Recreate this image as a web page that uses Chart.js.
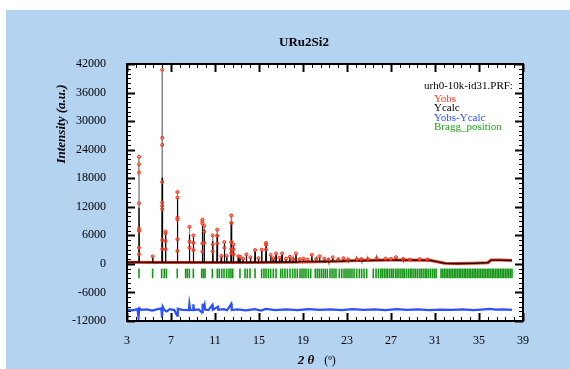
<!DOCTYPE html>
<html>
<head>
<meta charset="utf-8">
<script src="https://cdn.jsdelivr.net/npm/chart.js@4"></script>
<style>
  html, body { margin: 0; padding: 0; background: #fff; }
  #wrap { width: 570px; height: 369px; }
</style>
</head>
<body>
<div id="wrap"><canvas id="prf" width="570" height="369"></canvas></div>
<script>
// background of the pattern (2theta, counts)
const bgX = [3.0, 6.0, 10.0, 14.0, 17.0, 20.0, 22.0, 24.0, 27.0, 30.5, 31.2, 31.9, 33.0, 34.4, 35.8, 36.1, 37.0, 38.0];
const bgY = [350, 300, 300, 300, 350, 450, 550, 700, 800, 780, 450, 120, 60, 120, 250, 800, 800, 720];

// reflections: position, observed top, calculated top
const peakPos  = [4.09, 5.33, 6.2, 6.5, 7.58, 8.67, 9.03, 9.85, 10.03, 10.79, 11.2, 11.57, 11.85, 12.06, 12.48, 12.67, 13.12, 13.27, 13.55, 13.85, 14.22, 14.64, 14.95, 15.24, 15.64, 16.06, 16.3, 16.55, 16.85, 17.1, 17.45, 17.8, 18.1, 18.36, 18.7, 19.03, 19.4, 19.8, 20.2, 20.5, 20.94, 21.3, 21.7, 22.2, 22.67, 23.1, 23.9, 24.3, 24.9, 25.7, 26.5, 27.0, 27.45, 28.1, 28.7, 29.6, 30.3];
const peakObs  = [22500, 1600, 40800, 6800, 15100, 7800, 6000, 9300, 8000, 6000, 7200, 1700, 4600, 1700, 10200, 4100, 1600, 1500, 1100, 2000, 1400, 2900, 1200, 3000, 4400, 1900, 1200, 2200, 1300, 2200, 1100, 1500, 1000, 2200, 1000, 1100, 900, 1900, 1000, 1600, 1100, 900, 1400, 950, 1200, 950, 1000, 1000, 1000, 1200, 1100, 1050, 1400, 1050, 900, 1000, 950];
const peakCalc = [11800, 1500, 18100, 6600, 13900, 6200, 5600, 8000, 7200, 4800, 6300, 1500, 4400, 1500, 8700, 3800, 1400, 1300, 1000, 1800, 1300, 2600, 1100, 2700, 4000, 1700, 1100, 2000, 1200, 2000, 1000, 1300, 950, 1900, 950, 1000, 850, 1700, 950, 1400, 1000, 850, 1200, 900, 1100, 900, 950, 950, 950, 1100, 1000, 1000, 1300, 1000, 850, 950, 900];

// extra observed points on the flanks of the strong peaks
const dotX = [4.09, 4.09, 4.09, 4.09, 4.09, 4.09, 4.09,
              6.2, 6.2, 6.2, 6.2, 6.2, 6.2, 6.2, 6.2,
              6.5, 6.5, 6.5,
              7.58, 7.58, 7.58, 7.58, 7.58,
              8.67, 8.67, 9.03, 9.03,
              9.85, 9.85, 9.85, 9.85, 10.03, 10.03,
              10.79, 10.79, 11.2, 11.2, 11.85,
              12.48, 12.48, 12.48, 12.48, 12.67, 12.67,
              15.64, 15.64];
const dotY = [20900, 19200, 12700, 7400, 6900, 3400, 2000,
              26500, 25000, 17200, 12900, 12200, 11500, 5000, 3100,
              6450, 4800, 3100,
              13900, 9700, 9300, 5200, 2700,
              4700, 3400, 4400, 2900,
              8900, 8500, 4300, 2600, 6800, 4400,
              4100, 2600, 5900, 4300, 3400,
              8600, 4600, 3100, 2300, 3100, 2000,
              4000, 3000];

// Yobs - Ycalc (offset)
const diffX = [3.0, 3.5, 3.95, 4.05, 4.12, 4.3, 4.8, 5.3, 5.8, 6.12, 6.18, 6.24, 6.4, 6.6, 6.9, 7.3, 7.55, 7.62, 8.0, 8.62, 8.67, 8.75, 9.0, 9.03, 9.1, 9.5, 9.82, 9.85, 9.9, 10.05, 10.1, 10.4, 10.76, 10.8, 11.27, 11.3, 11.8, 12.1, 12.48, 12.52, 13.0, 13.8, 14.6, 15.2, 15.6, 16.5, 17.5, 18.5, 19.5, 20.5, 21.5, 22.5, 23.5, 24.5, 25.5, 26.5, 27.5, 28.5, 29.5, 30.5, 31.5, 32.5, 33.5, 34.5, 35.5, 36.0, 36.5, 37.2, 38.0];
const diffY = [-9600, -9750, -9500, -11300, -9300, -9650, -9550, -9800, -9500, -9350, -11300, -9000, -9700, -10000, -9500, -9700, -10900, -9400, -9650, -9700, -8400, -9650, -9700, -8500, -9700, -9550, -10200, -8400, -9600, -8500, -9600, -9700, -8600, -9650, -9000, -9650, -9500, -9750, -8400, -9700, -9550, -9750, -9500, -9800, -9450, -9700, -9550, -9700, -9500, -9650, -9550, -9700, -9500, -9650, -9550, -9700, -9500, -9650, -9550, -9700, -9600, -9650, -9550, -9700, -9550, -9450, -9600, -9550, -9650];

// Bragg reflection positions
const braggPos = [4.09, 5.33, 6.15, 6.39, 6.58, 7.57, 8.33, 8.48, 8.67, 9.03, 9.79, 9.94, 10.09, 10.76, 11.21, 11.39, 11.61, 11.82, 12.06, 12.27, 12.45, 12.61, 13.27, 13.73, 13.94, 14.18, 14.64, 15.24, 15.45, 15.64, 15.85, 16.06, 16.3, 16.55, 16.97, 17.15, 17.36, 17.58, 17.82, 18.06, 18.27, 18.48, 18.73, 18.91, 19.09, 19.27, 19.48, 19.7, 20.12, 20.3, 20.48, 20.67, 20.85, 21.03, 21.21, 21.45, 21.64, 21.82, 22.0, 22.3, 22.52, 22.73, 22.91, 23.09, 23.27, 23.45, 23.64, 23.88, 24.12, 24.33, 24.55, 24.79, 25.39, 25.64, 25.85, 26.05, 26.2, 26.38, 26.55, 26.7, 26.88, 27.05, 27.2, 27.4, 27.55, 27.72, 27.9, 28.08, 28.22, 28.4, 28.58, 28.75, 28.9, 29.08, 29.25, 29.42, 29.6, 29.75, 29.92, 30.1, 30.25, 30.42, 30.6, 30.78, 30.95, 31.1, 31.55, 31.7, 31.85, 32.0, 32.15, 32.3, 32.45, 32.6, 32.75, 32.9, 33.05, 33.2, 33.35, 33.5, 33.65, 33.8, 33.95, 34.1, 34.25, 34.4, 34.55, 34.7, 34.85, 35.0, 35.15, 35.3, 35.45, 35.6, 35.75, 35.9, 36.05, 36.2, 36.35, 36.5, 36.65, 36.8, 36.95, 37.1, 37.25, 37.4, 37.55, 37.7, 37.85, 38.0];
const braggLevel = -2000;

const xTickLabels = [3, 7, 11, 15, 19, 23, 27, 31, 35, 39];
const yTickLabels = [-12000, -6000, 0, 6000, 12000, 18000, 24000, 30000, 36000, 42000];

const serif = '"Liberation Serif", "Times New Roman", serif';

// nearest background sample for the foot of a peak
function bgNear(x) {
  let best = 0;
  bgX.forEach((v, i) => { if (Math.abs(v - x) < Math.abs(bgX[best] - x)) best = i; });
  return bgY[best];
}

// background line with a spike for every reflection
function profile(tops) {
  const pts = bgX.map((x, i) => ({ x: x, y: bgY[i] }));
  peakPos.forEach((p, i) => {
    const b = bgNear(p);
    pts.push({ x: p - 0.03, y: b }, { x: p, y: tops[i] }, { x: p + 0.03, y: b });
  });
  return pts.sort((a, b) => a.x - b.x);
}

const obsDots = peakPos.map((p, i) => ({ x: p, y: peakObs[i] }))
  .concat(dotX.map((x, i) => ({ x: x, y: dotY[i] })));

const decor = {
  id: 'decor',
  beforeDraw(chart) {
    const c = chart.ctx, a = chart.chartArea;
    c.save();
    c.fillStyle = '#ffffff';
    c.fillRect(0, 0, chart.width, chart.height);
    c.fillStyle = '#b3d3f1';
    c.fillRect(6, 10, chart.width - 6, chart.height - 10);
    c.fillStyle = '#ffffff';
    c.fillRect(a.left, a.top, a.right - a.left, a.bottom - a.top);
    c.restore();
  },
  afterDraw(chart) {
    const c = chart.ctx, a = chart.chartArea;
    const xs = chart.scales.x, ys = chart.scales.y;
    c.save();
    c.strokeStyle = '#000';
    // minor / major ticks pointing inward on all four sides
    for (let v = -12000; v <= 42000; v += 1000) {
      const py = Math.round(ys.getPixelForValue(v)) + 0.5;
      const major = v % 6000 === 0;
      const len = major ? 8 : 4;
      c.lineWidth = major ? 2 : 1;
      c.beginPath();
      c.moveTo(a.left, py); c.lineTo(a.left + len, py);
      c.moveTo(a.right - len, py); c.lineTo(a.right, py);
      c.stroke();
    }
    for (let i = 0; i <= 45; i++) {
      const px = Math.round(xs.getPixelForValue(3 + 0.8 * i)) + 0.5;
      const major = i % 5 === 0;
      const len = major ? 8 : 4;
      c.lineWidth = major ? 2 : 1;
      c.beginPath();
      c.moveTo(px, a.bottom); c.lineTo(px, a.bottom - len);
      c.moveTo(px, a.top); c.lineTo(px, a.top + len);
      c.stroke();
    }
    c.lineWidth = 2;
    c.strokeRect(a.left, a.top, a.right - a.left, a.bottom - a.top);

    // texts
    c.fillStyle = '#000';
    c.textAlign = 'center';
    c.textBaseline = 'middle';
    c.font = 'bold 13px ' + serif;
    c.fillText('URu2Si2', 304, 43);
    c.font = 'bold italic 13px ' + serif;
    c.fillText('2 θ', 306, 361);
    c.font = '12px ' + serif;
    c.fillText('(º)', 330, 361);
    c.save();
    c.translate(62, 124);
    c.rotate(-Math.PI / 2);
    c.font = 'bold italic 13px ' + serif;
    c.fillText('Intensity (a.u.)', 0, 0);
    c.restore();

    c.textAlign = 'left';
    c.font = '11px ' + serif;
    c.fillText('urh0-10k-id31.PRF:', 424, 86);
    const items = [['Yobs', '#ff3a1c'], ['Ycalc', '#000000'], ['Yobs-Ycalc', '#3050ff'], ['Bragg_position', '#22a022']];
    items.forEach((it, i) => {
      c.fillStyle = it[1];
      c.fillText(it[0], 434, 99 + i * 9.4);
    });
    c.restore();
  }
};

new Chart(document.getElementById('prf'), {
  type: 'scatter',
  data: {
    datasets: [
      {
        label: 'Yobs band',
        data: bgX.map((x, i) => ({ x: x, y: bgY[i] })),
        showLine: true, borderColor: '#ff2a10', borderWidth: 3, pointRadius: 0, order: 5
      },
      {
        label: 'Yobs line',
        data: profile(peakObs),
        showLine: true, borderColor: '#8a8a8a', borderWidth: 1, pointRadius: 0, order: 4
      },
      {
        label: 'Ycalc',
        data: profile(peakCalc),
        showLine: true, borderColor: '#000', borderWidth: 1.2, pointRadius: 0, order: 3
      },
      {
        label: 'Yobs',
        data: obsDots,
        pointRadius: 1.5, pointBorderWidth: 1,
        pointBorderColor: '#ff2a10', pointBackgroundColor: 'rgba(255,120,90,0.6)', order: 1
      },
      {
        label: 'Yobs-Ycalc',
        data: diffX.map((x, i) => ({ x: x, y: diffY[i] })),
        showLine: true, borderColor: '#2c50ff', borderWidth: 2.2, pointRadius: 0, order: 2
      },
      {
        label: 'Bragg_position',
        data: braggPos.map(x => ({ x: x, y: braggLevel })),
        pointStyle: 'line', rotation: 90, pointRadius: 4.8, pointBorderWidth: 1.6,
        pointBorderColor: '#169616', pointBackgroundColor: '#169616', order: 2
      }
    ]
  },
  options: {
    responsive: false,
    animation: false,
    events: [],
    layout: { padding: { top: 64, right: 47, left: 0, bottom: 0 } },
    plugins: { legend: { display: false }, tooltip: { enabled: false }, title: { display: false } },
    scales: {
      x: {
        type: 'linear', min: 3, max: 39,
        afterBuildTicks: s => { s.ticks = xTickLabels.map(v => ({ value: v })); },
        afterFit: s => { s.height = 48; },
        grid: { display: false }, border: { display: false },
        ticks: { color: '#000', padding: 5, font: { family: serif, size: 12 }, maxRotation: 0, callback: v => String(v) }
      },
      y: {
        type: 'linear', min: -12000, max: 42000,
        afterBuildTicks: s => { s.ticks = yTickLabels.map(v => ({ value: v })); },
        afterFit: s => { s.width = 127; },
        grid: { display: false }, border: { display: false },
        ticks: { color: '#000', padding: 13, font: { family: serif, size: 12 }, callback: v => String(v) }
      }
    }
  },
  plugins: [decor]
});
</script>
</body>
</html>
